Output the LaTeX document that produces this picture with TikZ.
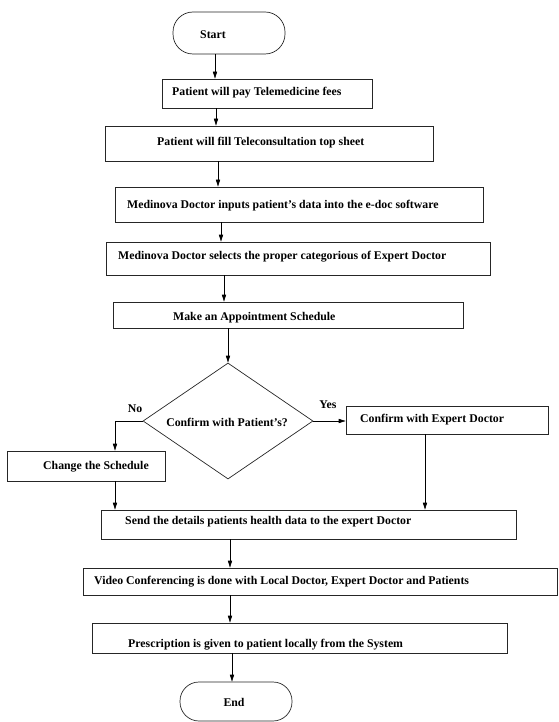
\documentclass[tikz,border=0pt]{standalone}
\usepackage{fontspec}
\setmainfont{Liberation Serif}
\usetikzlibrary{arrows.meta,fit,shapes.geometric}

\tikzset{
  flowbox/.style={draw=black!85, line width=0.7pt, rectangle, inner sep=0pt},
  terminal/.style={draw=black!85, line width=0.7pt, rectangle, inner sep=0pt, rounded corners=20pt},
  decision/.style={draw=black!85, line width=0.7pt, diamond, inner sep=0pt},
  boxtext/.style={anchor=west, inner sep=0pt, font=\fontsize{11.8}{14}\selectfont\bfseries},
  ctext/.style={inner sep=0pt, font=\fontsize{11.8}{14}\selectfont\bfseries},
  arr/.style={draw=black, line width=0.7pt, -{Triangle[length=7pt,width=4.2pt]}},
  plain/.style={draw=black, line width=0.7pt}
}

\begin{document}
\begin{tikzpicture}[x=1pt,y=-1pt]
  \useasboundingbox (0,0) rectangle (558,722);

  % terminals
  \node[terminal, fit={(173,12)(285,54)}] (start) {};
  \node[ctext] (starttxt) at (213,35) {Start};

  % process boxes
  \node[flowbox, fit={(162,79)(372,108)}] (b1) {};
  \node[boxtext] (t1) at (172,93) {Patient will pay Telemedicine fees};

  \node[flowbox, fit={(105,126)(433,161)}] (b2) {};
  \node[boxtext] (t2) at (157,143) {Patient will fill Teleconsultation top sheet};

  \node[flowbox, fit={(115,187)(483,222)}] (b3) {};
  \node[boxtext] (t3) at (127,206) {Medinova Doctor inputs patient's data into the e-doc software};

  \node[flowbox, fit={(106,242)(490,275)}] (b4) {};
  \node[boxtext] (t4) at (118,257) {Medinova Doctor selects the proper categorious of Expert Doctor};

  \node[flowbox, fit={(113,302)(463,328)}] (b5) {};
  \node[boxtext] (t5) at (173,318) {Make an Appointment Schedule};

  % decision
  \node[decision, minimum width=170pt, minimum height=116pt] (dia) at (228,421) {};
  \node[ctext] (diatxt) at (227,422) {Confirm with Patient's?};
  \node[ctext] (no) at (135,409) {No};
  \node[ctext] (yes) at (328,405) {Yes};

  \node[flowbox, fit={(346,406)(548,434)}] (confirm) {};
  \node[boxtext] (tc) at (360,420) {Confirm with Expert Doctor};

  \node[flowbox, fit={(7,451)(165,481)}] (change) {};
  \node[boxtext] (tch) at (43,467) {Change the Schedule};

  \node[flowbox, fit={(101,510)(516,539)}] (send) {};
  \node[boxtext] (ts) at (125,522) {Send the details patients health data to the expert Doctor};

  \node[flowbox, fit={(83,568)(557,595)}] (video) {};
  \node[boxtext] (tv) at (94,582) {Video Conferencing is done with Local Doctor, Expert Doctor and Patients};

  \node[flowbox, fit={(92,623)(507,653)}] (presc) {};
  \node[boxtext] (tp) at (128,645) {Prescription is given to patient locally from the System};

  \node[terminal, rounded corners=19pt, fit={(180,682)(292,721)}] (end) {};
  \node[ctext] (endtxt) at (234,702) {End};

  % connectors
  \draw[arr] (215,0 |- start.south) -- (215,0 |- b1.north);
  \draw[arr] (216,0 |- b1.south) -- (216,0 |- b2.north);
  \draw[arr] (218,0 |- b2.south) -- (218,0 |- b3.north);
  \draw[arr] (221,0 |- b3.south) -- (221,0 |- b4.north);
  \draw[arr] (224,0 |- b4.south) -- (224,0 |- b5.north);
  \draw[arr] (dia.north |- b5.south) -- (dia.north);
  \draw[arr] (dia.west) -| (115,0 |- change.north);
  \draw[arr] (dia.east) -- (dia.east -| confirm.west);
  \draw[arr] (115,0 |- change.south) -- (115,0 |- send.north);
  \draw[arr] (425,0 |- confirm.south) -- (425,0 |- send.north);
  \draw[arr] (230,0 |- send.south) -- (230,0 |- video.north);
  \draw[arr] (230,0 |- video.south) -- (230,0 |- presc.north);
  \draw[arr] (232,0 |- presc.south) -- (232,0 |- end.north);
\end{tikzpicture}
\end{document}
